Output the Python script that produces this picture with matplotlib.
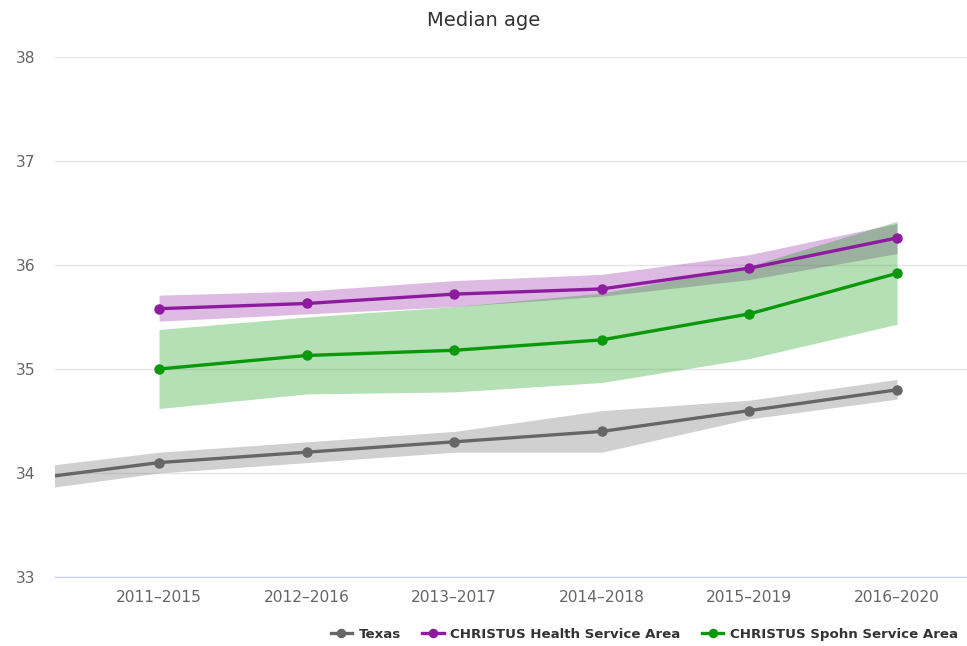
import numpy as np
import matplotlib.pyplot as plt

plt.rcParams['font.family'] = ['DejaVu Sans']

# Data
periods = ['2010–2014', '2011–2015', '2012–2016', '2013–2017', '2014–2018', '2015–2019', '2016–2020']

texas = [33.92, 34.1, 34.2, 34.3, 34.4, 34.6, 34.8]
texas_low = [33.81, 34.0, 34.1, 34.2, 34.2, 34.52, 34.71]
texas_high = [34.03, 34.2, 34.3, 34.4, 34.6, 34.7, 34.9]

health = [np.nan, 35.58, 35.63, 35.72, 35.77, 35.97, 36.26]
health_low = [np.nan, 35.46, 35.53, 35.6, 35.7, 35.86, 36.11]
health_high = [np.nan, 35.71, 35.75, 35.85, 35.91, 36.1, 36.4]

spohn = [np.nan, 35.0, 35.13, 35.18, 35.28, 35.53, 35.92]
spohn_low = [np.nan, 34.62, 34.76, 34.78, 34.87, 35.1, 35.43]
spohn_high = [np.nan, 35.38, 35.5, 35.6, 35.73, 35.99, 36.42]

TEXAS_COLOR = '#666666'
HEALTH_COLOR = '#8e1b9f'
SPOHN_COLOR = '#0a990a'

fig = plt.figure(figsize=(9.67, 6.46), dpi=100)
ax = fig.add_axes([55 / 967, 69 / 646, 912 / 967, 520 / 646])

x = np.arange(len(periods))
series = [
    ('Texas', texas, texas_low, texas_high, TEXAS_COLOR),
    ('CHRISTUS Health Service Area', health, health_low, health_high, HEALTH_COLOR),
    ('CHRISTUS Spohn Service Area', spohn, spohn_low, spohn_high, SPOHN_COLOR),
]
for name, vals, lo, hi, col in series:
    ax.fill_between(x, lo, hi, color=col, alpha=0.3, linewidth=0, zorder=1)
for name, vals, lo, hi, col in series:
    ax.plot(x, vals, color=col, linewidth=2.4, marker='o', markersize=6.5,
            label=name, zorder=3, clip_on=True)

ax.set_xlim(0.295, 6.474)
ax.set_ylim(33, 38)
ax.set_yticks([33, 34, 35, 36, 37, 38])
ax.set_xticks(x[1:])
ax.set_xticklabels(periods[1:])

ax.grid(axis='y', color='#e6e6e6', linewidth=1)
ax.grid(axis='x', visible=False)
ax.set_axisbelow(True)
for s in ['top', 'right', 'left']:
    ax.spines[s].set_visible(False)
ax.spines['bottom'].set_color('#ccd6eb')
ax.spines['bottom'].set_linewidth(1)
ax.tick_params(axis='both', length=0, labelsize=11.2, colors='#666666')
ax.tick_params(axis='y', pad=14)
ax.tick_params(axis='x', pad=9)

fig.text(0.5, 0.968, 'Median age', ha='center', va='center', fontsize=14, color='#333333')

fig.legend(loc='center right', bbox_to_anchor=(1.003, 0.018), ncol=3, frameon=False,
           prop={'weight': 'bold', 'size': 9.6}, labelcolor='#333333',
           handlelength=1.6, handletextpad=0.5, columnspacing=1.6, markerscale=0.9)

fig.savefig('out.png', dpi=100, facecolor='white')
